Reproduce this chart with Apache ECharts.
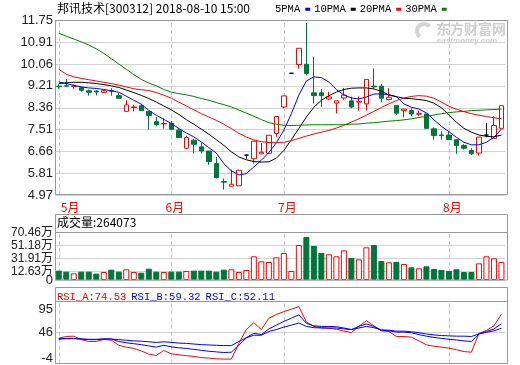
<!DOCTYPE html>
<html><head><meta charset="utf-8">
<script src="https://cdn.jsdelivr.net/npm/echarts@6/dist/echarts.min.js"></script>
<style>html,body{margin:0;padding:0;background:#fff}#c{width:520px;height:365px}</style>
</head><body><div id="c"></div>
<script>
const stockName = '邦讯技术', stockCode = '300312', stamp = '2018-08-10 15:00';
const dates = ['2018-05-11','2018-05-14','2018-05-15','2018-05-16','2018-05-17','2018-05-18','2018-05-21','2018-05-22','2018-05-23','2018-05-24','2018-05-25','2018-05-28','2018-05-29','2018-05-30','2018-05-31',
'2018-06-01','2018-06-04','2018-06-05','2018-06-06','2018-06-07','2018-06-08','2018-06-11','2018-06-12','2018-06-13','2018-06-14','2018-06-15','2018-06-19','2018-06-20','2018-06-21','2018-06-22',
'2018-07-02','2018-07-03','2018-07-04','2018-07-05','2018-07-06','2018-07-09','2018-07-10','2018-07-11','2018-07-12','2018-07-13','2018-07-16','2018-07-17','2018-07-18','2018-07-19','2018-07-20','2018-07-23','2018-07-24','2018-07-25','2018-07-26','2018-07-27','2018-07-30','2018-07-31',
'2018-08-01','2018-08-02','2018-08-03','2018-08-06','2018-08-07','2018-08-08','2018-08-09','2018-08-10'];
const openP = [9.20,9.21,9.19,9.14,9.02,9.01,8.96,9.02,8.83,8.22, 8.37,8.44,8.21,7.82,7.73,7.75,7.49,6.79,7.10,6.84, 6.68,6.19,5.49,5.31,5.33,6.52,6.38,6.57,6.59,7.36, 8.39,9.70,10.04,10.05,8.94,8.94,8.70,8.54,8.74,8.63, 8.58,8.51,9.20,9.20,8.68,8.45,8.25,8.25,8.11,8.12, 7.54,7.30,7.30,7.12,6.89,6.70,6.60,7.30,7.17,7.56];
const closeP = [9.18,9.20,9.20,9.04,8.96,8.97,9.02,9.00,8.73,8.47, 8.39,8.25,8.06,7.71,7.75,7.52,7.20,7.20,6.94,6.68, 6.27,5.65,5.47,5.39,5.93,6.52,7.06,6.63,7.29,8.02, 8.82,9.70,10.67,9.69,8.83,8.83,8.78,8.63,8.85,8.39, 8.61,9.46,9.17,8.73,8.77,8.15,8.31,8.12,8.13,7.56, 7.28,7.28,7.12,6.89,6.79,6.57,7.22,7.30,7.67,8.44];
const lowP = [9.10,9.19,9.10,8.99,8.83,8.84,8.93,8.83,8.73,8.22, 8.22,8.24,7.51,7.64,7.55,7.52,7.20,6.75,6.58,6.58, 6.14,5.61,5.18,5.31,5.33,6.38,6.19,6.57,6.57,7.23, 8.33,9.70,9.88,9.62,8.52,8.39,8.65,8.14,8.67,8.34, 8.25,8.25,9.10,8.57,8.65,8.08,7.99,8.03,8.03,7.56, 7.12,7.12,7.12,6.57,6.73,6.53,6.50,7.21,7.17,7.56];
const highP = [9.27,9.47,9.26,9.17,9.07,9.04,9.06,9.12,8.93,8.65, 8.48,8.50,8.21,8.00,7.94,7.85,7.58,7.27,7.14,6.99, 6.68,6.45,5.61,5.96,5.95,6.52,7.06,6.99,7.29,8.02, 8.82,9.70,10.67,11.65,10.34,9.09,8.98,8.63,9.13,8.79, 8.80,9.46,9.89,9.29,9.12,8.45,8.31,8.34,8.25,8.12, 7.60,7.44,7.44,7.12,6.95,6.79,7.22,7.77,8.03,8.44];
const ma5 = [9.36,9.30,9.23,9.17,9.13,9.11,9.07,9.02,8.96,8.81, 8.65,8.50,8.26,8.07,7.91,7.75,7.55,7.38,7.23,7.03, 6.81,6.60,6.19,5.91,5.75,5.80,6.06,6.32,6.62,7.00, 7.49,8.13,8.85,9.40,9.56,9.53,9.36,9.07,8.86,8.74, 8.70,8.78,8.89,8.90,8.86,8.79,8.51,8.38,8.31,8.16, 7.89,7.64,7.43,7.21,7.02,6.92,6.92,7.02,7.21,7.53];
const ma10 = [9.30,9.33,9.35,9.35,9.33,9.30,9.26,9.21,9.15,9.05, 8.95,8.84,8.72,8.58,8.43,8.28,8.10,7.90,7.72,7.53, 7.33,7.12,6.90,6.65,6.45,6.34,6.27,6.25,6.26,6.40, 6.70,7.12,7.55,8.00,8.38,8.65,8.83,8.97,9.07,9.12, 9.13,9.13,9.09,9.00,8.86,8.79,8.73,8.71,8.68,8.64, 8.54,8.36,8.08,7.80,7.56,7.41,7.30,7.25,7.23,7.30];
const ma20 = [9.86,9.66,9.56,9.50,9.45,9.40,9.35,9.30,9.24,9.17, 9.10,9.06,9.03,8.95,8.85,8.73,8.58,8.43,8.28,8.13, 8.00,7.87,7.72,7.55,7.37,7.22,7.11,7.04,7.01,7.00, 7.02,7.08,7.17,7.26,7.34,7.41,7.48,7.57,7.68,7.80, 7.93,8.07,8.22,8.37,8.51,8.64,8.74,8.80,8.83,8.81, 8.73,8.58,8.42,8.30,8.21,8.13,8.07,8.02,7.97,7.93];
const ma30 = [11.25,11.14,11.03,10.92,10.80,10.65,10.47,10.27,10.06,9.85, 9.65,9.46,9.32,9.21,9.07,8.97,8.91,8.86,8.80,8.72, 8.65,8.56,8.48,8.39,8.27,8.15,8.03,7.90,7.78,7.72, 7.68,7.67,7.68,7.69,7.70,7.70,7.70,7.70,7.70,7.72, 7.73,7.76,7.78,7.81,7.84,7.86,7.89,7.93,7.98,8.03, 8.08,8.13,8.17,8.20,8.22,8.25,8.26,8.28,8.29,8.31];
const volume = [13.8,12.3,9.8,12.3,12.3,9.4,11.8,15.3,12.3,15.8, 11.8,10.8,16.7,12.3,11.8,12.3,12.3,13.3,13.8,13.8, 13.8,12.3,15.3,15.8,11.8,14.8,35.0,27.6,26.6,33.5, 39.9,13.3,51.7,63.5,50.2,39.9,37.9,35.0,43.8,32.5, 30.5,48.3,51.7,28.1,26.1,26.6,23.6,18.7,17.2,20.2, 16.2,14.8,13.3,15.8,11.8,11.8,24.6,35.0,32.0,26.4073];
const rsiA = [36.3,39,39.5,34,31,31,34.5,33,25,22, 20,16,11,8.8,16.7,11.5,9.8,8.5,7.2,5.5, 4.6,3.5,3.0,3.0,28,50,61,50,68,74, 78.6,82.5,86.5,62,55,53,52,50.5,47.5,45.2, 55,64,56,48,47,38.9,38.9,38,32,25.7, 23.5,22,20.4,18,15,14,44,48.5,56,74.53];
const rsiB = [35,36,36,35,34,34,35,35,31,29, 27.5,26,24,22,25,22.5,21,20,18.5,17, 15.5,14.5,13.5,14,25,37,44,42,51,57, 63,68,73.5,60,56,55,55,54.5,52.5,50, 55,59,55,49,48,46,46,45,42,39.5, 37.5,36,34.5,33.5,32,31,43,47,51,59.32];
const rsiC = [35,35.5,35.5,35,34.5,34.5,35,35,34,33, 32,31.5,30.5,29.5,30.5,29.5,28.5,28,27,26, 25.5,25,24.5,24.5,31,37,41,41,47,50, 54,57,60.5,55,53,52.5,52.5,52.5,51,50, 52.5,55,53,49.5,49,47.5,47.5,46.5,45,43, 41.5,40.5,40,39.5,39.5,39,43,45.5,48,52.11];
const priceTicks = [4.97,5.81,6.66,7.51,8.36,9.21,10.06,10.91,11.75];
const volTicks = [0,12.63,31.91,51.18,70.46];
const rsiTicks = [-4,46,95];

const N = dates.length;
const RED = '#ff0000', GREEN = '#00763b', BLUE = '#0000ff', BLACK = '#000000', MAGREEN = '#008000';
const AXIS_FONT = "'Liberation Sans','Noto Sans CJK SC',sans-serif";
const CJK_FONT = "'Noto Sans CJK SC',sans-serif";
const MONO = "'Liberation Mono','Noto Sans CJK SC',monospace";
const monthIdx = dates.map((d, i) => (i === 0 || d.slice(5, 7) !== dates[i - 1].slice(5, 7)) ? i : -1).filter(i => i >= 0);

const kData = dates.map((d, i) => {
  const item = { value: [openP[i], closeP[i], lowP[i], highP[i]] };
  if (openP[i] === closeP[i]) item.itemStyle = { color: BLACK, color0: BLACK, borderColor: BLACK, borderColor0: BLACK };
  return item;
});
const volData = volume.map((v, i) => {
  const up = closeP[i] >= openP[i];
  return { value: v, itemStyle: { color: up ? '#ffffff' : GREEN, borderColor: up ? RED : GREEN, borderWidth: 1 } };
});
const monthLines = () => ({
  silent: true, symbol: ['none', 'none'], label: { show: false }, z: 1, animation: false,
  lineStyle: { type: [4, 3], color: '#c4c4c4', width: 1 }, emphasis: { disabled: true },
  data: monthIdx.map(i => ({ xAxis: dates[i] }))
});
const gridL = 55, gridW = 450.2;
const xBase = gi => ({
  type: 'category', gridIndex: gi, data: dates, boundaryGap: true,
  axisLine: { show: false }, axisTick: { show: false }, splitLine: { show: false },
  axisLabel: { show: false }
});
const xMain = xBase(0);
xMain.axisLabel = {
  show: true, margin: 6, alignMinLabel: 'left',
  interval: idx => monthIdx.includes(idx),
  formatter: (val, idx) => {
    const m = parseInt(val.slice(5, 7), 10) + '月';
    return idx === 0 ? '{f|' + m + '}' : '{m|' + m + '}';
  },
  rich: {
    f: { color: RED, fontSize: 12, fontFamily: CJK_FONT, padding: [0, 0, 0, 2] },
    m: { color: RED, fontSize: 12, fontFamily: CJK_FONT, padding: [0, 0, 0, 7] }
  }
};
const yLabel = { fontSize: 13, color: '#222', fontFamily: AXIS_FONT, margin: 2, showMinLabel: true, showMaxLabel: true, hideOverlap: false };
const splitStyle = { show: true, lineStyle: { color: '#d2d2d2', width: 1 } };
const volFmt = v => v === 0 ? '0' : v.toFixed(2) + '万';
const maSeries = (name, data, color) => ({
  type: 'line', name, data, xAxisIndex: 0, yAxisIndex: 0, symbol: 'none', showSymbol: false,
  lineStyle: { width: 1, color }, itemStyle: { color }, color, z: 3, silent: true
});
const rsiSeries = (name, data, color, withLines) => {
  const s = { type: 'line', name, data, xAxisIndex: 2, yAxisIndex: 2, symbol: 'none', showSymbol: false,
    lineStyle: { width: 1, color }, itemStyle: { color }, z: 3, silent: true };
  if (withLines) s.markLine = monthLines();
  return s;
};

const option = {
  animation: false,
  backgroundColor: '#ffffff',
  title: [
    { text: stockName + '[' + stockCode + '] ' + stamp, left: 57, top: 2, padding: 0,
      textStyle: { fontSize: 12, fontWeight: 'normal', color: '#000', fontFamily: CJK_FONT } },
    { text: '成交量:' + Math.round(volume[N - 1] * 10000), left: 57, top: 216, padding: 0,
      textStyle: { fontSize: 12, fontWeight: 'normal', color: '#000', fontFamily: CJK_FONT } },
    { text: '{a|RSI_A:' + rsiA[N - 1].toFixed(2) + '} {b|RSI_B:' + rsiB[N - 1].toFixed(2) + '} {b|RSI_C:' + rsiC[N - 1].toFixed(2) + '}',
      left: 57, top: 288, padding: 0,
      textStyle: { fontWeight: 'normal', rich: {
        a: { color: RED, fontSize: 10.5, fontFamily: MONO },
        b: { color: BLUE, fontSize: 10.5, fontFamily: MONO } } } }
  ],
  legend: {
    left: 275, top: 4, padding: 0, itemWidth: 5, itemHeight: 3, itemGap: 4, align: 'right',
    selectedMode: false, icon: 'rect',
    textStyle: { fontSize: 10.5, color: '#000', fontFamily: MONO },
    data: ['5PMA', '10PMA', '20PMA', '30PMA']
  },
  grid: [
    { left: gridL, width: gridW, top: 20.5, height: 174.5 },
    { left: gridL, width: gridW, top: 232.3, height: 47.7 },
    { left: gridL, width: gridW, top: 301.3, height: 62.4 }
  ],
  xAxis: [xMain, xBase(1), xBase(2)],
  yAxis: [
    { type: 'value', gridIndex: 0, position: 'left', min: priceTicks[0], max: priceTicks[priceTicks.length - 1],
      axisLine: { show: false }, axisTick: { show: false, customValues: priceTicks },
      axisLabel: Object.assign({ customValues: priceTicks, formatter: v => v.toFixed(2) }, yLabel),
      splitLine: splitStyle },
    { type: 'value', gridIndex: 1, position: 'left', min: volTicks[0], max: volTicks[volTicks.length - 1],
      axisLine: { show: false }, axisTick: { show: false, customValues: volTicks },
      axisLabel: Object.assign({ customValues: volTicks.slice(1), formatter: volFmt }, yLabel, { fontSize: 12 }),
      splitLine: splitStyle },
    { type: 'value', gridIndex: 2, position: 'left', min: rsiTicks[0], max: rsiTicks[rsiTicks.length - 1],
      axisLine: { show: false }, axisTick: { show: false, customValues: [rsiTicks[1]] },
      axisLabel: Object.assign({ customValues: rsiTicks,
        formatter: v => v === rsiTicks[rsiTicks.length - 1] ? '{t|' + v + '}' : (v === rsiTicks[0] ? '{b|' + v + '}' : '{m|' + v + '}'),
        rich: {
          t: { fontSize: 13, color: '#222', fontFamily: AXIS_FONT, padding: [17, 0, 0, 0] },
          b: { fontSize: 13, color: '#222', fontFamily: AXIS_FONT, padding: [0, 0, 10, 0] },
          m: { fontSize: 13, color: '#222', fontFamily: AXIS_FONT }
        } }, yLabel),
      splitLine: splitStyle },
    { type: 'value', gridIndex: 1, position: 'left', offset: 0, min: volTicks[0], max: volTicks[volTicks.length - 1],
      axisLine: { show: false }, axisTick: { show: false, customValues: [volTicks[0]] },
      axisLabel: Object.assign({ customValues: [volTicks[0]], formatter: volFmt }, yLabel, { fontSize: 13 }),
      splitLine: { show: false } }
  ],
  series: [
    { type: 'candlestick', name: 'K', data: kData, xAxisIndex: 0, yAxisIndex: 0, barWidth: 5, z: 2, silent: true,
      itemStyle: { color: '#ffffff', color0: GREEN, borderColor: RED, borderColor0: GREEN, borderWidth: 1 },
      markLine: monthLines() },
    maSeries('5PMA', ma5, BLUE),
    maSeries('10PMA', ma10, BLACK),
    maSeries('20PMA', ma20, RED),
    maSeries('30PMA', ma30, MAGREEN),
    { type: 'bar', name: 'VOL', data: volData, xAxisIndex: 1, yAxisIndex: 1, barWidth: 6, z: 2, silent: true,
      markLine: monthLines() },
    rsiSeries('RSI_A', rsiA, RED, true),
    rsiSeries('RSI_B', rsiB, BLUE, false),
    rsiSeries('RSI_C', rsiC, BLUE, false)
  ],
  graphic: [
    { type: 'rect', silent: true, z: 100, shape: { x: 55.5, y: 20.5, width: 452, height: 174 }, style: { fill: 'none', stroke: '#999', lineWidth: 1 } },
    { type: 'rect', silent: true, z: 100, shape: { x: 55.5, y: 214.5, width: 452, height: 65.5 }, style: { fill: 'none', stroke: '#999', lineWidth: 1 } },
    { type: 'line', silent: true, z: 100, shape: { x1: 55.5, y1: 232.5, x2: 507.5, y2: 232.5 }, style: { stroke: '#999', lineWidth: 1 } },
    { type: 'rect', silent: true, z: 100, shape: { x: 55.5, y: 287.5, width: 452, height: 76 }, style: { fill: 'none', stroke: '#999', lineWidth: 1 } },
    { type: 'line', silent: true, z: 100, shape: { x1: 55.5, y1: 301.5, x2: 507.5, y2: 301.5 }, style: { stroke: '#999', lineWidth: 1 } },
    { type: 'arc', silent: true, z: 50, shape: { cx: 424, cy: 31, r: 7, startAngle: 2.2, endAngle: 5.6 }, style: { stroke: '#d4d4d4', lineWidth: 4, fill: 'none' } },
    { type: 'text', silent: true, z: 50, x: 436, y: 22, style: { text: '东方财富网', font: 'bold 14px "Noto Sans CJK SC"', fill: '#cfcfcf' } },
    { type: 'text', silent: true, z: 50, x: 437, y: 37, style: { text: 'eastmoney.com', font: 'italic bold 8px "Liberation Sans"', fill: '#cfcfcf' } }
  ]
};
const chart = echarts.init(document.getElementById('c'), null, { renderer: 'canvas', width: 520, height: 365 });
chart.setOption(option);
</script>
</body></html>
